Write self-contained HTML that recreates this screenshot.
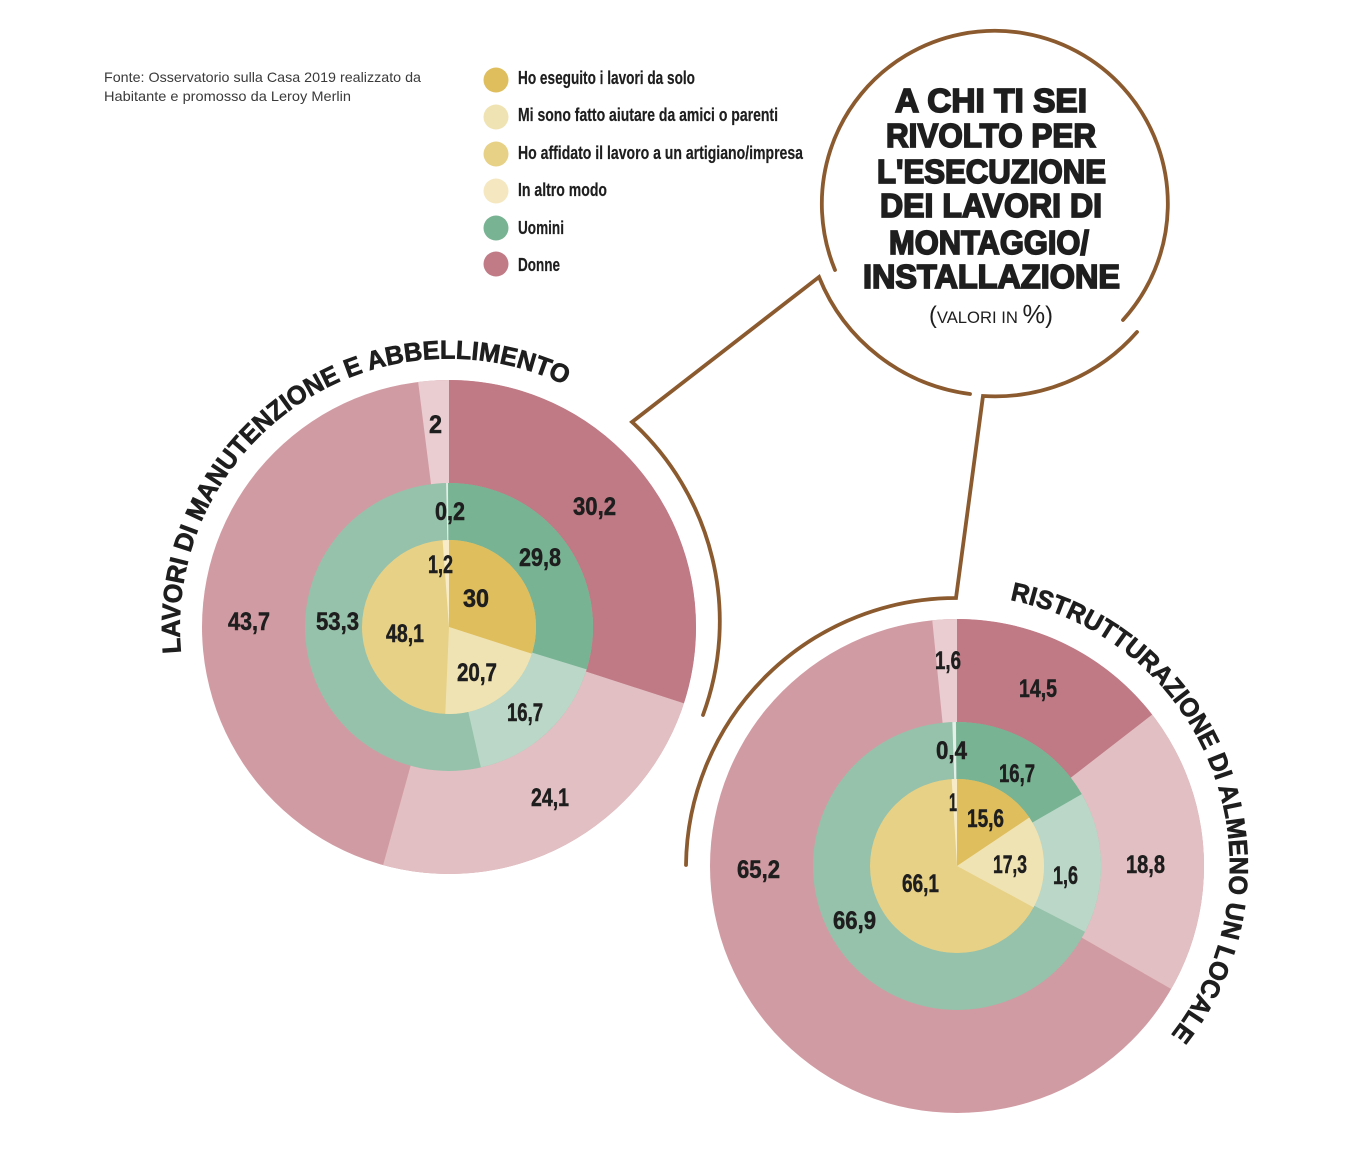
<!DOCTYPE html>
<html lang="it">
<head>
<meta charset="utf-8">
<title>A chi ti sei rivolto</title>
<style>
html,body{margin:0;padding:0;background:#fff}
svg{display:block}
text{font-family:"Liberation Sans",sans-serif;fill:#1e1e1e}
.n{font-size:25px;font-weight:bold;stroke:#1e1e1e;stroke-width:.5px}
.l{font-size:18px;font-weight:bold;stroke:#1e1e1e;stroke-width:.2px}
.s{font-size:14px;fill:#3a3a3a}
.h{font-size:33px;font-weight:bold;stroke:#1e1e1e;stroke-width:1.7px}
.c{font-size:26px;font-weight:bold;stroke:#1e1e1e;stroke-width:.7px}
circle.w{fill:none}
</style>
</head>
<body>
<svg xmlns="http://www.w3.org/2000/svg" width="1355" height="1163" viewBox="0 0 1355 1163">
<rect width="1355" height="1163" fill="#fff"/>

<!-- source -->
<text class="s" x="104" y="82" textLength="317" lengthAdjust="spacingAndGlyphs">Fonte: Osservatorio sulla Casa 2019 realizzato da</text>
<text class="s" x="104" y="101" textLength="247" lengthAdjust="spacingAndGlyphs">Habitante e promosso da Leroy Merlin</text>

<!-- legend -->
<circle cx="496" cy="80" r="12.5" fill="#dfbe5e"/>
<circle cx="496" cy="117" r="12.5" fill="#f0e3b3"/>
<circle cx="496" cy="154" r="12.5" fill="#e7d186"/>
<circle cx="496" cy="191" r="12.5" fill="#f5e8c0"/>
<circle cx="496" cy="228" r="12.5" fill="#78b393"/>
<circle cx="496" cy="264" r="12.5" fill="#c07b87"/>
<text class="l" x="518" y="84" textLength="177" lengthAdjust="spacingAndGlyphs">Ho eseguito i lavori da solo</text>
<text class="l" x="518" y="121" textLength="260" lengthAdjust="spacingAndGlyphs">Mi sono fatto aiutare da amici o parenti</text>
<text class="l" x="518" y="159" textLength="285" lengthAdjust="spacingAndGlyphs">Ho affidato il lavoro a un artigiano/impresa</text>
<text class="l" x="518" y="196" textLength="89" lengthAdjust="spacingAndGlyphs">In altro modo</text>
<text class="l" x="518" y="234" textLength="46" lengthAdjust="spacingAndGlyphs">Uomini</text>
<text class="l" x="518" y="271" textLength="42" lengthAdjust="spacingAndGlyphs">Donne</text>

<!-- left chart -->
<g transform="rotate(-90 449 627)">
<circle cx="449" cy="627" r="247" fill="#d19ba3"/>
<circle class="w" cx="449" cy="627" r="123.5" stroke-width="247" pathLength="100" stroke="#e2bfc2" stroke-dasharray="24.3 75.7" stroke-dashoffset="-30"/>
<circle class="w" cx="449" cy="627" r="123.5" stroke-width="247" pathLength="100" stroke="#bf7a85" stroke-dasharray="30 70" stroke-dashoffset="0"/>
<circle class="w" cx="449" cy="627" r="123.5" stroke-width="247" pathLength="100" stroke="#e9cdd0" stroke-dasharray="2 98" stroke-dashoffset="-98"/>
<circle cx="449" cy="627" r="144" fill="#96c1aa"/>
<circle class="w" cx="449" cy="627" r="72" stroke-width="144" pathLength="100" stroke="#78b393" stroke-dasharray="29.8 70.2" stroke-dashoffset="0"/>
<circle class="w" cx="449" cy="627" r="72" stroke-width="144" pathLength="100" stroke="#bad7c7" stroke-dasharray="16.7 83.3" stroke-dashoffset="-29.8"/>
<circle class="w" cx="449" cy="627" r="72" stroke-width="144" pathLength="100" stroke="#e4efe8" stroke-dasharray="0.2 99.8" stroke-dashoffset="-99.8"/>
<circle cx="449" cy="627" r="87" fill="#e7d186"/>
<circle class="w" cx="449" cy="627" r="43.5" stroke-width="87" pathLength="100" stroke="#dfbe5e" stroke-dasharray="30 70" stroke-dashoffset="0"/>
<circle class="w" cx="449" cy="627" r="43.5" stroke-width="87" pathLength="100" stroke="#f0e3b3" stroke-dasharray="20.7 79.3" stroke-dashoffset="-30"/>
<circle class="w" cx="449" cy="627" r="43.5" stroke-width="87" pathLength="100" stroke="#f7ecc7" stroke-dasharray="1.2 98.8" stroke-dashoffset="-98.8"/>
</g>

<!-- right chart -->
<g transform="rotate(-90 957 866)">
<circle cx="957" cy="866" r="247" fill="#d19ba3"/>
<circle class="w" cx="957" cy="866" r="123.5" stroke-width="247" pathLength="100" stroke="#bf7a85" stroke-dasharray="14.5 85.5" stroke-dashoffset="0"/>
<circle class="w" cx="957" cy="866" r="123.5" stroke-width="247" pathLength="100" stroke="#e2bfc2" stroke-dasharray="18.8 81.2" stroke-dashoffset="-14.5"/>
<circle class="w" cx="957" cy="866" r="123.5" stroke-width="247" pathLength="100" stroke="#e9cdd0" stroke-dasharray="1.6 98.4" stroke-dashoffset="-98.4"/>
<circle cx="957" cy="866" r="144" fill="#96c1aa"/>
<circle class="w" cx="957" cy="866" r="72" stroke-width="144" pathLength="100" stroke="#78b393" stroke-dasharray="16.7 83.3" stroke-dashoffset="0"/>
<circle class="w" cx="957" cy="866" r="72" stroke-width="144" pathLength="100" stroke="#bad7c7" stroke-dasharray="15.9 84.1" stroke-dashoffset="-16.7"/>
<circle class="w" cx="957" cy="866" r="72" stroke-width="144" pathLength="100" stroke="#e4efe8" stroke-dasharray="0.4 99.6" stroke-dashoffset="-99.6"/>
<circle cx="957" cy="866" r="87" fill="#e7d186"/>
<circle class="w" cx="957" cy="866" r="43.5" stroke-width="87" pathLength="100" stroke="#dfbe5e" stroke-dasharray="15.6 84.4" stroke-dashoffset="0"/>
<circle class="w" cx="957" cy="866" r="43.5" stroke-width="87" pathLength="100" stroke="#f0e3b3" stroke-dasharray="17.3 82.7" stroke-dashoffset="-15.6"/>
<circle class="w" cx="957" cy="866" r="43.5" stroke-width="87" pathLength="100" stroke="#f7ecc7" stroke-dasharray="1 99" stroke-dashoffset="-99"/>
</g>

<!-- brown lines -->
<g fill="none" stroke="#8b5a2e" stroke-width="3.8" stroke-linecap="round" stroke-linejoin="miter">
<path d="M835 270 A173 173 0 1 1 1123 320"/>
<path d="M1137 332 A189 189 0 0 1 983 396 L956 598 A270 270 0 0 0 686 865"/>
<path d="M970 394 A189 189 0 0 1 819 277 L632 422 A270 270 0 0 1 703 715"/>
</g>

<!-- heading -->
<text class="h" x="895" y="112" textLength="192" lengthAdjust="spacingAndGlyphs">A CHI TI SEI</text>
<text class="h" x="886" y="147" textLength="210" lengthAdjust="spacingAndGlyphs">RIVOLTO PER</text>
<text class="h" x="877" y="183" textLength="229" lengthAdjust="spacingAndGlyphs">L'ESECUZIONE</text>
<text class="h" x="880" y="217" textLength="222" lengthAdjust="spacingAndGlyphs">DEI LAVORI DI</text>
<text class="h" x="889" y="254" textLength="200" lengthAdjust="spacingAndGlyphs">MONTAGGIO/</text>
<text class="h" x="863" y="288" textLength="257" lengthAdjust="spacingAndGlyphs">INSTALLAZIONE</text>
<text x="929" y="323" textLength="124" lengthAdjust="spacingAndGlyphs" font-size="17"><tspan font-size="24">(</tspan>VALORI IN <tspan font-size="26">%</tspan><tspan font-size="24">)</tspan></text>

<!-- curved titles -->
<defs>
<path id="pl" d="M181 653 A269 269 0 0 1 565 385"/>
<path id="pr" d="M1010 600 A271 271 0 0 1 1170 1036"/>
</defs>
<text class="c"><textPath href="#pl" textLength="568" lengthAdjust="spacingAndGlyphs">LAVORI DI MANUTENZIONE E ABBELLIMENTO</textPath></text>
<text class="c"><textPath href="#pr" textLength="556" lengthAdjust="spacingAndGlyphs">RISTRUTTURAZIONE DI ALMENO UN LOCALE</textPath></text>

<!-- left labels -->
<text class="n" x="573" y="515" textLength="43" lengthAdjust="spacingAndGlyphs">30,2</text>
<text class="n" x="531" y="806" textLength="38" lengthAdjust="spacingAndGlyphs">24,1</text>
<text class="n" x="228" y="630" textLength="42" lengthAdjust="spacingAndGlyphs">43,7</text>
<text class="n" x="429" y="433" textLength="13" lengthAdjust="spacingAndGlyphs">2</text>
<text class="n" x="435" y="520" textLength="30" lengthAdjust="spacingAndGlyphs">0,2</text>
<text class="n" x="519" y="566" textLength="42" lengthAdjust="spacingAndGlyphs">29,8</text>
<text class="n" x="316" y="630" textLength="43" lengthAdjust="spacingAndGlyphs">53,3</text>
<text class="n" x="507" y="721" textLength="36" lengthAdjust="spacingAndGlyphs">16,7</text>
<text class="n" x="428" y="573" textLength="25" lengthAdjust="spacingAndGlyphs">1,2</text>
<text class="n" x="463" y="607" textLength="26" lengthAdjust="spacingAndGlyphs">30</text>
<text class="n" x="386" y="642" textLength="38" lengthAdjust="spacingAndGlyphs">48,1</text>
<text class="n" x="457" y="681" textLength="40" lengthAdjust="spacingAndGlyphs">20,7</text>

<!-- right labels -->
<text class="n" x="1019" y="697" textLength="38" lengthAdjust="spacingAndGlyphs">14,5</text>
<text class="n" x="935" y="669" textLength="26" lengthAdjust="spacingAndGlyphs">1,6</text>
<text class="n" x="1126" y="873" textLength="39" lengthAdjust="spacingAndGlyphs">18,8</text>
<text class="n" x="737" y="878" textLength="43" lengthAdjust="spacingAndGlyphs">65,2</text>
<text class="n" x="936" y="759" textLength="31" lengthAdjust="spacingAndGlyphs">0,4</text>
<text class="n" x="999" y="782" textLength="36" lengthAdjust="spacingAndGlyphs">16,7</text>
<text class="n" x="949" y="811" textLength="8" lengthAdjust="spacingAndGlyphs">1</text>
<text class="n" x="967" y="827" textLength="37" lengthAdjust="spacingAndGlyphs">15,6</text>
<text class="n" x="993" y="873" textLength="34" lengthAdjust="spacingAndGlyphs">17,3</text>
<text class="n" x="1053" y="884" textLength="25" lengthAdjust="spacingAndGlyphs">1,6</text>
<text class="n" x="902" y="892" textLength="37" lengthAdjust="spacingAndGlyphs">66,1</text>
<text class="n" x="833" y="929" textLength="43" lengthAdjust="spacingAndGlyphs">66,9</text>
</svg>
</body>
</html>
